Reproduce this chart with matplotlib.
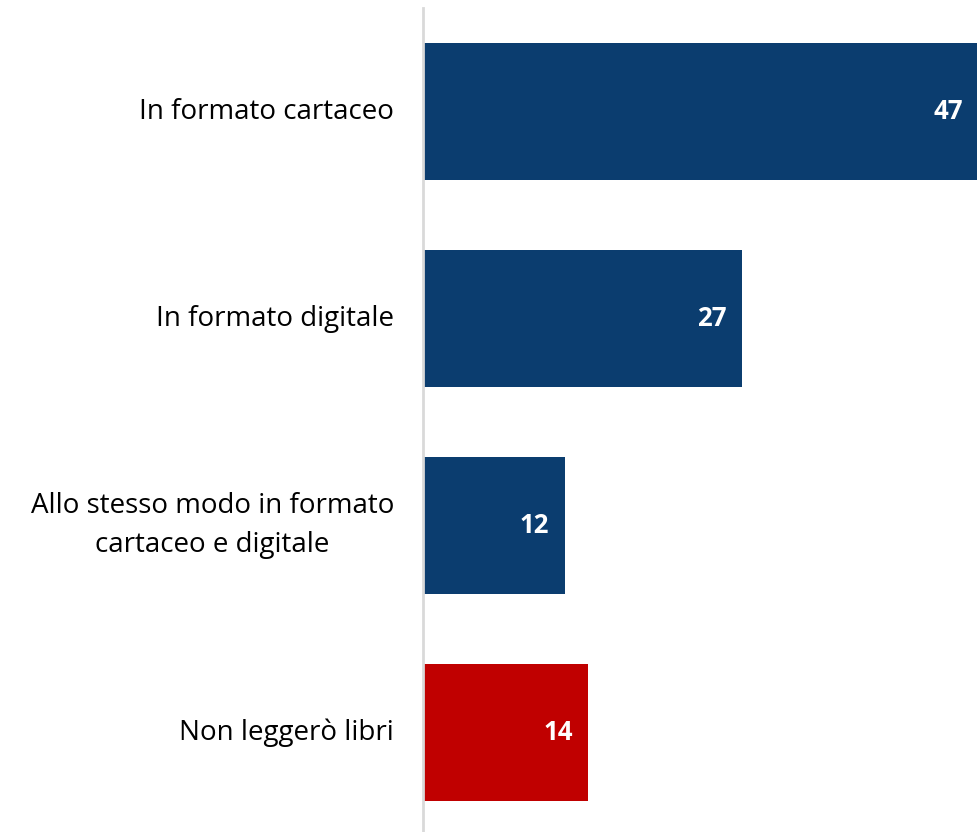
import matplotlib.pyplot as plt

labels = ["In formato cartaceo", "In formato digitale",
          "Allo stesso modo in formato\ncartaceo e digitale", "Non leggerò libri"]
values = [47, 27, 12, 14]
colors = ["#0B3D6F", "#0B3D6F", "#0B3D6F", "#C00000"]

plt.rcParams['font.family'] = ['Open Sans', 'DejaVu Sans']

fig = plt.figure(figsize=(9.78, 8.32), dpi=100)
ax = fig.add_axes([423 / 978, 0, 1 - 423 / 978, 824 / 832])

ypos = list(range(len(values)))
ax.barh(ypos, values, height=0.662, color=colors)
ax.set_xlim(0, 47)
ax.set_ylim(3.48, -0.5)

for y, v in zip(ypos, values):
    ax.text(v - 1.3, y, str(v), ha="right", va="center", color="white",
            fontsize=18.5, fontweight="bold")

for y, lab in zip(ypos, labels):
    ax.text(-2.45, y, lab, ha="right", va="center", multialignment="center",
            fontsize=20, color="#000000", linespacing=1.55)

for s in ["top", "right", "bottom"]:
    ax.spines[s].set_visible(False)
ax.spines["left"].set_color("#d9d9d9")
ax.spines["left"].set_linewidth(2)
ax.set_xticks([])
ax.set_yticks([])

fig.savefig("out.png", dpi=100)
